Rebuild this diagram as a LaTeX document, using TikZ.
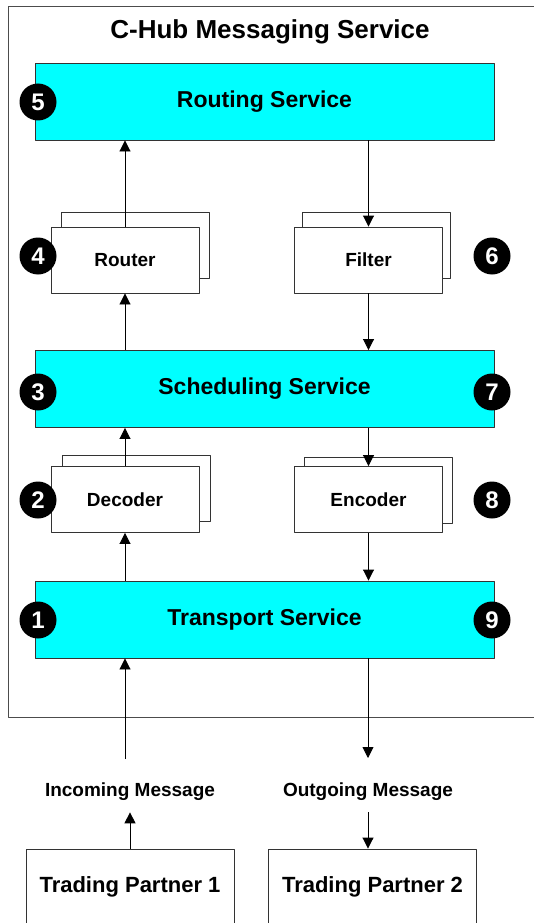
\documentclass[tikz,border=0pt]{standalone}
\usepackage{fontspec}
\setmainfont{Liberation Sans}
\usetikzlibrary{arrows.meta,shadows}
\definecolor{hubcyan}{RGB}{0,255,255}
\tikzset{
  service/.style={draw=black!80, fill=hubcyan, minimum width=459pt, minimum height=77pt,
    font=\fontsize{23}{26}\selectfont\bfseries},
  stage/.style={draw=black!80, fill=white, minimum width=148pt, minimum height=66pt,
    font=\fontsize{19}{22}\selectfont\bfseries},
  badge/.style={circle, fill=black, text=white, minimum size=37pt, inner sep=0pt,
    font=\fontsize{24}{24}\selectfont\bfseries},
  partner/.style={draw=black!80, minimum width=208pt, minimum height=76pt,
    font=\fontsize{22}{25}\selectfont\bfseries},
  msg/.style={inner sep=11pt, font=\fontsize{19}{22}\selectfont\bfseries}
}
\begin{document}
\begin{tikzpicture}[x=1pt, y=-1pt, >={Triangle[length=11pt,width=11pt]}, line width=0.9pt, line join=round]
  \useasboundingbox (0,0) rectangle (533,923);
  % outer frame of the hub
  \draw[black!70] (8,6) rectangle (545,717);
  \node[font=\fontsize{26}{30}\selectfont\bfseries] (title) at (270,32) {C-Hub Messaging Service};
  % service layers
  \node[service] (routing) at (264.5,101.5) {Routing Service};
  \node[service] (sched) at (264.5,389) {Scheduling Service};
  \node[service] (transport) at (264.5,619.5) {Transport Service};
  % stacked handlers
  \node[stage, copy shadow={shadow xshift=10pt, shadow yshift=15pt}] (router) at (125,260) {Router};
  \node[stage, copy shadow={shadow xshift=8pt, shadow yshift=15pt}] (filter) at (368.5,260) {Filter};
  \node[stage, copy shadow={shadow xshift=11pt, shadow yshift=11pt}] (decoder) at (125,499.5) {Decoder};
  \node[stage, copy shadow={shadow xshift=10pt, shadow yshift=9pt}] (encoder) at (368.5,499.5) {Encoder};
  % numbered steps
  \foreach \n/\x/\y in {1/38/620, 2/38/500, 3/38/392, 4/38/256, 5/38/102,
                        6/492/256, 7/492/392, 8/492/500, 9/492/620}
    \node[badge] (b\n) at (\x,\y) {\n};
  % partners
  \node[partner] (tp1) at (130,887) {Trading Partner 1};
  \node[partner] (tp2) at (372.5,887) {Trading Partner 2};
  \node[msg] (incoming) at (130,792) {Incoming Message};
  \node[msg] (outgoing) at (368,792) {Outgoing Message};
  \coordinate (in1) at (125,759);
  \coordinate (out1) at (368,758);
  % message flow
  \draw[->] (tp1) -- (incoming);
  \draw[->] (in1) -- (in1 |- transport.south);
  \draw[->] (decoder.north |- transport.north) -- (decoder.south);
  \draw[->] (decoder.north) -- (decoder.north |- sched.south);
  \draw[->] (router.north |- sched.north) -- (router.south);
  \draw[->] (router.north) -- (router.north |- routing.south);
  \draw[->] (filter.north |- routing.south) -- (filter.north);
  \draw[->] (filter.south) -- (filter.south |- sched.north);
  \draw[->] (encoder.north |- sched.south) -- (encoder.north);
  \draw[->] (encoder.south) -- (encoder.south |- transport.north);
  \draw[->] (out1 |- transport.south) -- (out1);
  \draw[->] (outgoing) -- (outgoing |- tp2.north);
\end{tikzpicture}
\end{document}
